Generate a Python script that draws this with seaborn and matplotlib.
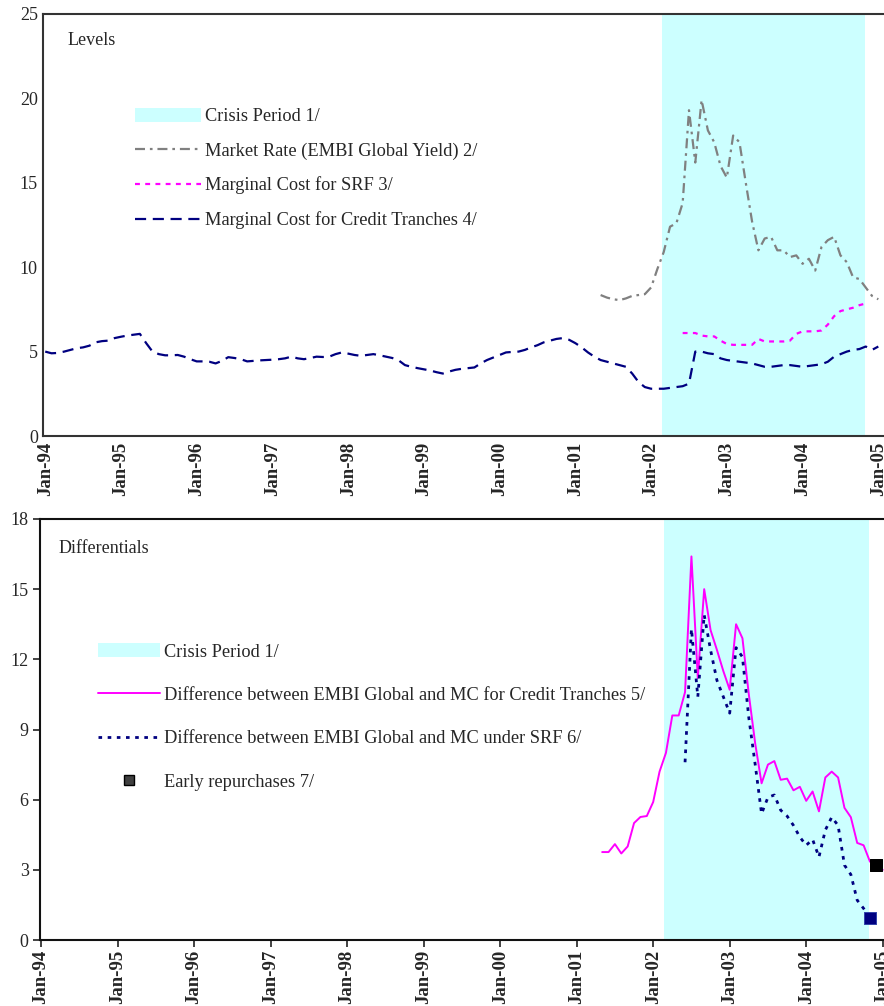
import numpy as np
import pandas as pd
import matplotlib
matplotlib.use("Agg")
import matplotlib.pyplot as plt
import seaborn as sns
from matplotlib.patches import Patch
from matplotlib.lines import Line2D

# ---------------------------------------------------------------
# Monthly series, month index counted from Jan-1994 (= 0)
# ---------------------------------------------------------------
tick_labels = ["Jan-94", "Jan-95", "Jan-96", "Jan-97", "Jan-98", "Jan-99",
               "Jan-00", "Jan-01", "Jan-02", "Jan-03", "Jan-04", "Jan-05"]

# crisis period (start, end) in months since Jan-1994
crisis = (97.7, 129.9)

# Marginal cost for credit tranches, Jan-1994 .. Jan-2005
credit_start = 0
credit_tranches = [
    5.0, 4.9, 4.92, 5.0, 5.1, 5.2, 5.25, 5.35, 5.55, 5.62, 5.65, 5.8,        # 1994
    5.88, 5.95, 6.0, 6.05, 5.5, 5.0, 4.85, 4.78, 4.78, 4.8, 4.7, 4.55,       # 1995
    4.42, 4.42, 4.4, 4.3, 4.45, 4.67, 4.62, 4.55, 4.42, 4.45, 4.48, 4.5,     # 1996
    4.52, 4.55, 4.6, 4.7, 4.6, 4.55, 4.62, 4.7, 4.68, 4.7, 4.85, 4.95,       # 1997
    4.88, 4.8, 4.75, 4.8, 4.85, 4.78, 4.7, 4.62, 4.48, 4.2, 4.1, 4.02,       # 1998
    3.95, 3.88, 3.78, 3.7, 3.82, 3.92, 3.98, 4.02, 4.06, 4.3, 4.5, 4.65,     # 1999
    4.8, 4.95, 4.98, 5.0, 5.1, 5.25, 5.38, 5.55, 5.65, 5.75, 5.8, 5.7,       # 2000
    5.5, 5.25, 4.95, 4.7, 4.5, 4.4, 4.3, 4.2, 4.1, 3.7, 3.2, 2.9,            # 2001
    2.8, 2.8, 2.8, 2.85, 2.9, 2.95, 3.1, 5.0, 5.0, 4.9, 4.85, 4.6,           # 2002
    4.5, 4.45, 4.4, 4.35, 4.3, 4.2, 4.1, 4.1, 4.15, 4.2, 4.2, 4.15,          # 2003
    4.1, 4.15, 4.2, 4.25, 4.4, 4.7, 4.85, 5.0, 5.1, 5.15, 5.3, 5.1,          # 2004
    5.3,                                                                     # Jan-2005
]

# Market rate (EMBI Global yield), May-2001 .. Jan-2005
embi_start = 88
embi_yield = [
    8.35, 8.2, 8.1, 8.05, 8.15, 8.3, 8.35, 8.4,
    8.8, 9.9, 10.9, 12.4, 12.6, 13.8, 19.3, 16.2, 19.9, 18.1, 17.4, 16.0,
    15.3, 17.8, 17.4, 15.0, 12.7, 11.0, 11.7, 11.8, 11.0, 11.0, 10.6, 10.7,
    10.2, 10.5, 9.8, 11.2, 11.6, 11.8, 10.7, 10.3, 9.4, 9.3, 8.8, 8.3,
    8.1,
]

# Marginal cost for SRF, Jun-2002 .. Nov-2004
srf_start = 101
srf_cost = [
    6.1, 6.1, 6.1, 5.95, 5.9, 5.9, 5.65,
    5.45, 5.4, 5.4, 5.4, 5.4, 5.75, 5.6, 5.6, 5.6, 5.6, 5.65, 6.05,
    6.2, 6.2, 6.2, 6.25, 6.6, 7.1, 7.4, 7.5, 7.6, 7.75, 7.85,
]

# Difference between EMBI Global and MC for credit tranches, May-2001 .. Jan-2005
diff_ct_start = 88
diff_credit = [
    3.76, 3.76, 4.1, 3.7, 4.0, 5.0, 5.26, 5.3,
    5.9, 7.2, 8.0, 9.6, 9.6, 10.6, 16.4, 11.2, 15.0, 13.25, 12.4, 11.5,
    10.7, 13.5, 12.9, 10.5, 8.4, 6.7, 7.5, 7.65, 6.85, 6.9, 6.4, 6.55,
    5.95, 6.35, 5.5, 6.95, 7.2, 6.95, 5.65, 5.25, 4.15, 4.05, 3.35, 3.2,
    3.0,
]

# Difference between EMBI Global and MC under SRF, Jun-2002 .. Nov-2004
diff_srf_start = 101
diff_srf = [
    7.6, 13.3, 10.4, 13.9, 12.4, 11.1, 10.4,
    9.7, 12.5, 12.1, 9.5, 7.5, 5.4, 6.1, 6.2, 5.55, 5.3, 4.9, 4.4,
    4.05, 4.3, 3.55, 4.7, 5.25, 4.9, 3.2, 2.8, 1.7, 1.35, 0.94,
]

# Early repurchases (month index, differential)
repurchase_ct = (131, 3.2)
repurchase_srf = (130, 0.94)


def series(start, values):
    return pd.DataFrame({"month": np.arange(len(values)) + start,
                         "value": values})


credit_df = series(credit_start, credit_tranches)
embi_df = series(embi_start, embi_yield)
srf_df = series(srf_start, srf_cost)
dct_df = series(diff_ct_start, diff_credit)
dsrf_df = series(diff_srf_start, diff_srf)

# ---------------------------------------------------------------
# Style
# ---------------------------------------------------------------
sns.set_theme(style="white")
plt.rcParams["font.family"] = ["Liberation Serif", "DejaVu Serif"]
plt.rcParams["axes.edgecolor"] = "#333333"

CYAN = "#CCFFFF"
GRAY = "#808080"
MAGENTA = "#FF00FF"
NAVY = "#000080"

fig = plt.figure(figsize=(8.84, 10.06), dpi=100)
ax1 = fig.add_axes([0.049, 0.5666, 0.951, 0.4195])
ax2 = fig.add_axes([0.045, 0.0656, 0.955, 0.4185])

month_ticks = np.arange(len(tick_labels)) * 12

# ---------------------------------------------------------------
# Levels
# ---------------------------------------------------------------
ax1.axvspan(*crisis, color=CYAN, lw=0, zorder=0)
sns.lineplot(data=embi_df, x="month", y="value", ax=ax1, color=GRAY,
             lw=1.6, linestyle=(0, (4.5, 2.2, 1.2, 2.2)))
sns.lineplot(data=srf_df, x="month", y="value", ax=ax1, color=MAGENTA,
             lw=1.6, linestyle=(0, (2.2, 2.4)))
sns.lineplot(data=credit_df, x="month", y="value", ax=ax1, color=NAVY,
             lw=1.6, linestyle=(0, (5, 3)))

ax1.set_xlim(-0.3, 132.9)
ax1.set_ylim(0, 25)
ax1.set_yticks([0, 5, 10, 15, 20, 25])
ax1.set_xticks(month_ticks)
ax1.set_xticklabels(tick_labels, rotation=90, fontweight="bold", fontsize=13.5)
ax1.tick_params(axis="x", length=0, pad=4)
ax1.tick_params(axis="y", length=0, labelsize=13, pad=4)
ax1.set_xlabel("")
ax1.set_ylabel("")
for side in ["left", "bottom", "top"]:
    ax1.spines[side].set_linewidth(1.5)
ax1.spines["right"].set_visible(False)
ax1.text(0.0285, 0.938, "Levels", transform=ax1.transAxes, fontsize=13,
         va="center", ha="left")

h1 = [Patch(facecolor=CYAN, edgecolor="none"),
      Line2D([], [], color=GRAY, lw=1.6, linestyle=(0, (4.5, 2.2, 1.2, 2.2))),
      Line2D([], [], color=MAGENTA, lw=1.6, linestyle=(0, (2.2, 2.4))),
      Line2D([], [], color=NAVY, lw=1.6, linestyle=(0, (5, 3)))]
l1 = ["Crisis Period 1/", "Market Rate (EMBI Global Yield) 2/",
      "Marginal Cost for SRF 3/", "Marginal Cost for Credit Tranches 4/"]
ax1.legend(h1, l1, loc="upper left", bbox_to_anchor=(0.1094, 0.778),
           frameon=False, fontsize=13.2, handlelength=3.6, handleheight=0.8,
           handletextpad=0.2, labelspacing=0.93, borderaxespad=0,
           borderpad=0)

# ---------------------------------------------------------------
# Differentials
# ---------------------------------------------------------------
ax2.axvspan(*crisis, color=CYAN, lw=0, zorder=0)
sns.lineplot(data=dct_df, x="month", y="value", ax=ax2, color=MAGENTA,
             lw=1.4)
sns.lineplot(data=dsrf_df, x="month", y="value", ax=ax2, color=NAVY,
             lw=2.0, linestyle=(0, (1.3, 2.0)))
sns.scatterplot(x=[repurchase_ct[0]], y=[repurchase_ct[1]], ax=ax2,
                marker="s", s=80, color="black", edgecolor="black",
                zorder=5, clip_on=False)
sns.scatterplot(x=[repurchase_srf[0]], y=[repurchase_srf[1]], ax=ax2,
                marker="s", s=80, color=NAVY, edgecolor="#3344aa",
                zorder=5, clip_on=False)

ax2.set_xlim(-0.2, 132.2)
ax2.set_ylim(0, 18)
ax2.set_yticks([0, 3, 6, 9, 12, 15, 18])
ax2.set_xticks(month_ticks)
ax2.set_xticklabels(tick_labels, rotation=90, fontweight="bold", fontsize=13.5)
ax2.tick_params(axis="both", direction="out", length=5, width=1.2,
                color="#222222", pad=2, left=True, bottom=True)
ax2.tick_params(axis="y", labelsize=13, pad=3)
ax2.set_xlabel("")
ax2.set_ylabel("")
for side in ["left", "bottom", "top"]:
    ax2.spines[side].set_linewidth(1.5)
    ax2.spines[side].set_color("#111111")
ax2.spines["right"].set_visible(False)
ax2.text(0.0225, 0.929, "Differentials", transform=ax2.transAxes,
         fontsize=13, va="center", ha="left")

h2 = [Patch(facecolor=CYAN, edgecolor="none"),
      Line2D([], [], color=MAGENTA, lw=1.4),
      Line2D([], [], color=NAVY, lw=2.0, linestyle=(0, (1.3, 2.0))),
      Line2D([], [], color="#404040", marker="s", markersize=7,
             markeredgecolor="black", linestyle="none")]
l2 = ["Crisis Period 1/",
      "Difference between EMBI Global and MC for Credit Tranches 5/",
      "Difference between EMBI Global and MC under SRF 6/",
      "Early repurchases 7/"]
ax2.legend(h2, l2, loc="upper left", bbox_to_anchor=(0.0687, 0.705),
           frameon=False, fontsize=13.2, handlelength=3.4, handleheight=0.8,
           handletextpad=0.2, labelspacing=1.42, borderaxespad=0,
           borderpad=0)

fig.savefig("out.png", dpi=100)
